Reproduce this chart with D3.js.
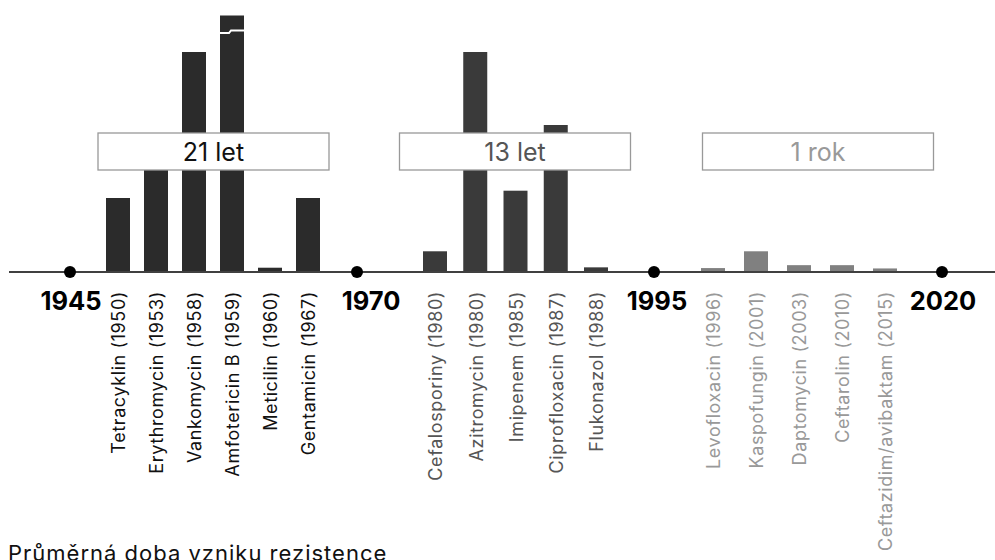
<!DOCTYPE html>
<html>
<head>
<meta charset="utf-8">
<script src="https://cdn.jsdelivr.net/npm/d3@7"></script>
<style>
  html, body { margin: 0; padding: 0; background: #fff; }
  svg { display: block; font-family: Inter, "Noto Sans", sans-serif; }
</style>
</head>
<body>
<svg id="chart" width="995" height="560"></svg>
<script>
// ---- DATA ----
const milestoneYears = [1945, 1970, 1995, 2020];

const group1Names  = ["Tetracyklin (1950)", "Erythromycin (1953)", "Vankomycin (1958)", "Amfotericin B (1959)", "Meticilin (1960)", "Gentamicin (1967)"];
const group1Values = [10, 15, 30, 57, 0.45, 10];

const group2Names  = ["Cefalosporiny (1980)", "Azitromycin (1980)", "Imipenem (1985)", "Ciprofloxacin (1987)", "Flukonazol (1988)"];
const group2Values = [2.7, 30, 11, 20, 0.5];

const group3Names  = ["Levofloxacin (1996)", "Kaspofungin (2001)", "Daptomycin (2003)", "Ceftarolin (2010)", "Ceftazidim/avibaktam (2015)"];
const group3Values = [0.4, 2.7, 0.8, 0.8, 0.35];

const averageLabels = ["21 let", "13 let", "1 rok"];
const captionText = "Průměrná doba vzniku rezistence";

// ---- LAYOUT ----
const W = 995, H = 560;
const baseY = 271;
const barW = 24;
const svg = d3.select("#chart");

const y = d3.scaleLinear().domain([0, 35]).range([baseY, 15.5]).clamp(true);
const xMilestone = d3.scaleLinear().domain(milestoneYears).range([70, 357, 654, 942]);
const labelNudge = [1, 14, 3, 1];

const groups = [
  {names: group1Names, values: group1Values, range: [118, 308], bar: "#2b2b2b", text: "#111111", boxCenter: 213.5, label: averageLabels[0]},
  {names: group2Names, values: group2Values, range: [435, 596], bar: "#3a3a3a", text: "#555555", boxCenter: 515,   label: averageLabels[1]},
  {names: group3Names, values: group3Values, range: [713, 885], bar: "#808080", text: "#999999", boxCenter: 818,   label: averageLabels[2]}
];

groups.forEach(g => {
  const x = d3.scalePoint().domain(g.names).range(g.range);
  const data = g.names.map((n, i) => ({name: n, value: g.values[i]}));
  const gg = svg.append("g");
  gg.selectAll("rect").data(data).join("rect")
    .attr("x", d => x(d.name) - barW / 2)
    .attr("y", d => y(d.value))
    .attr("width", barW)
    .attr("height", d => baseY - y(d.value))
    .attr("fill", g.bar);
  // break mark on clipped bars
  data.filter(d => d.value > y.domain()[1]).forEach(d => {
    const cx = x(d.name), top = y(d.value);
    gg.append("path")
      .attr("d", `M${cx - barW/2},${top + 17.5} L${cx - 3},${top + 17.5} L${cx - 1},${top + 15} L${cx + barW/2},${top + 15}`)
      .attr("fill", "none").attr("stroke", "#fff").attr("stroke-width", 2);
  });
  // rotated labels
  gg.selectAll("text.lbl").data(data).join("text")
    .attr("class", "lbl")
    .attr("transform", d => `translate(${x(d.name) + 1},291) rotate(-90)`)
    .attr("text-anchor", "end")
    .attr("dy", "0.36em")
    .attr("font-size", 18)
    .attr("letter-spacing", "0.6px")
    .attr("fill", g.text)
    .text(d => d.name);
});

// baseline
svg.append("line")
  .attr("x1", 9).attr("x2", W).attr("y1", baseY + 1).attr("y2", baseY + 1)
  .attr("stroke", "#000").attr("stroke-width", 1.5);

// average boxes
groups.forEach(g => {
  svg.append("rect")
    .attr("x", g.boxCenter - 115.5).attr("y", 133)
    .attr("width", 231).attr("height", 37)
    .attr("fill", "#fff").attr("stroke", "#999").attr("stroke-width", 1.3);
  svg.append("text")
    .attr("x", g.boxCenter).attr("y", 161)
    .attr("text-anchor", "middle")
    .attr("font-size", 25)
    .attr("fill", g.text)
    .text(g.label);
});

// milestone dots and labels
svg.selectAll("circle.ms").data(milestoneYears).join("circle")
  .attr("class", "ms")
  .attr("cx", d => xMilestone(d)).attr("cy", baseY + 1).attr("r", 6)
  .attr("fill", "#000");
svg.selectAll("text.ms").data(milestoneYears).join("text")
  .attr("class", "ms")
  .attr("x", (d, i) => xMilestone(d) + labelNudge[i]).attr("y", 310)
  .attr("text-anchor", "middle")
  .attr("font-size", 25.5).attr("font-weight", 700)
  .attr("fill", "#000")
  .text(d => d);

// caption
svg.append("text")
  .attr("x", 8).attr("y", 561)
  .attr("font-size", 22)
  .attr("letter-spacing", "1px")
  .attr("fill", "#111")
  .text(captionText);
</script>
</body>
</html>
